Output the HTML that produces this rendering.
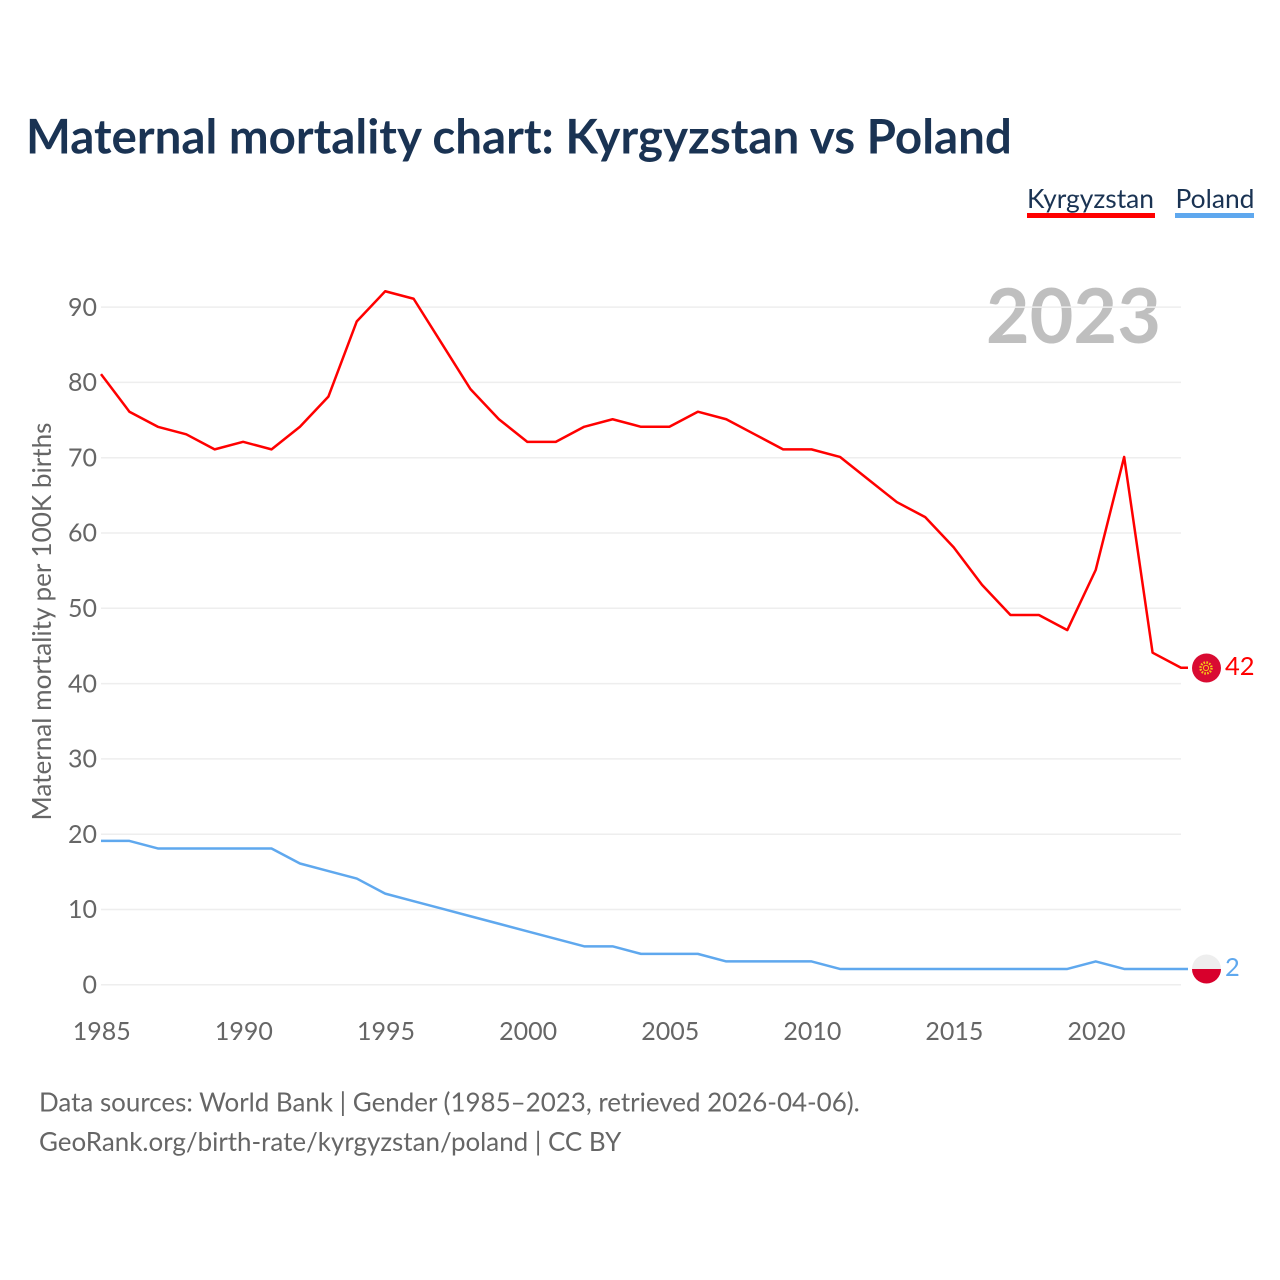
<!DOCTYPE html>
<html lang="en">
<head>
<meta charset="utf-8">
<title>Maternal mortality chart: Kyrgyzstan vs Poland</title>
<style>
html,body{margin:0;padding:0;background:#fff;}
#chart{position:absolute;left:0;top:0;width:1280px;height:1280px;overflow:hidden;}
svg{display:block;}
text{font-family:"Lato","Carlito","Liberation Sans",sans-serif;}
</style>
</head>
<body>
<div id="chart">
<svg id="svg" xmlns="http://www.w3.org/2000/svg" width="1280" height="1280" viewBox="0 0 1280 1280">
  <text x="26" y="153.700" font-size="47.500" font-weight="700" fill="#1a3353">Maternal mortality chart: Kyrgyzstan vs Poland</text>
  <g>
    <text x="1027" y="208" font-size="26.400" fill="#1a3353">Kyrgyzstan</text>
    <rect x="1027" y="213" width="128" height="5" fill="#ff0000"></rect>
    <text x="1175.500" y="208" font-size="26.400" fill="#1a3353">Poland</text>
    <rect x="1175" y="213" width="79" height="5" fill="#5fa8ee"></rect>
  </g>
  <text x="1161" y="343" font-size="75.500" font-weight="700" fill="#000000" fill-opacity="0.25" text-anchor="end">2023</text>
  <g id="grid"></g>
  <g id="yticks"></g>
  <g id="xticks"></g>
  <text transform="translate(51,621.500) rotate(-90)" font-size="26.100" fill="#666666" text-anchor="middle">Maternal mortality per 100K births</text>
  <g id="series"></g>
  <g>
    <circle cx="1206.500" cy="668" r="14.500" fill="#d90b32"></circle>
    <circle cx="1206" cy="668" r="5.500" fill="none" stroke="#f5c518" stroke-width="2.400" stroke-dasharray="1.600 1.300"></circle>
    <circle cx="1206" cy="668" r="2.600" fill="#d90b32" stroke="#f5c518" stroke-width="1"></circle>
  </g>
  <g>
    <path d="M1192 969 A14.500 14.500 0 0 1 1221 969 Z" fill="#eeeeee"></path>
    <path d="M1192 969 A14.500 14.500 0 0 0 1221 969 Z" fill="#d8002c"></path>
  </g>
  <text x="1225" y="675" font-size="25.500" fill="#ff0000">42</text>
  <text x="1225" y="976" font-size="25.500" fill="#5fa8ee">2</text>
  <g>
    <text x="39" y="1111.500" font-size="25.950" fill="#666666">Data sources: World Bank | Gender (1985–2023, retrieved 2026-04-06).</text>
    <text x="39" y="1151" font-size="25.950" fill="#666666">GeoRank.org/birth-rate/kyrgyzstan/poland | CC BY</text>
  </g>
</svg>
</div>
<script>
const years = [1985,1986,1987,1988,1989,1990,1991,1992,1993,1994,1995,1996,1997,1998,1999,2000,2001,2002,2003,2004,2005,2006,2007,2008,2009,2010,2011,2012,2013,2014,2015,2016,2017,2018,2019,2020,2021,2022,2023];
const kyrgyzstan = [81,76,74,73,71,72,71,74,78,88,92,91,85,79,75,72,72,74,75,74,74,76,75,73,71,71,70,67,64,62,58,53,49,49,47,55,70,44,42];
const poland = [19,19,18,18,18,18,18,16,15,14,12,11,10,9,8,7,6,5,5,4,4,4,3,3,3,3,2,2,2,2,2,2,2,2,2,3,2,2,2];
const yTickValues = [0,10,20,30,40,50,60,70,80,90];
const xTickValues = [1985,1990,1995,2000,2005,2010,2015,2020];

const NS = 'http://www.w3.org/2000/svg';
const xScale = function (v) { return 101 + (v - 1985) * (1181 - 101) / (2023 - 1985); };
const yScale = function (v) { return 984 - v * 7.53; };
const grid = document.getElementById('grid');
const yticks = document.getElementById('yticks');
const xticks = document.getElementById('xticks');
const series = document.getElementById('series');

yTickValues.forEach(function (v) {
  const line = document.createElementNS(NS, 'line');
  line.setAttribute('x1', 101);
  line.setAttribute('x2', 1181);
  line.setAttribute('y1', yScale(v) + 0.8);
  line.setAttribute('y2', yScale(v) + 0.8);
  line.setAttribute('stroke', '#eeeeee');
  line.setAttribute('stroke-width', 1.5);
  
  
  grid.appendChild(line);
  const t = document.createElementNS(NS, 'text');
  t.setAttribute('x', 97);
  t.setAttribute('y', yScale(v) + 9.5);
  t.setAttribute('font-size', 25);
  t.setAttribute('fill', '#666666');
  t.setAttribute('text-anchor', 'end');
  t.textContent = v;
  
  
  yticks.appendChild(t);
});

xTickValues.forEach(function (v) {
  const t = document.createElementNS(NS, 'text');
  t.setAttribute('x', xScale(v) + 0.8);
  t.setAttribute('y', 1040);
  t.setAttribute('font-size', 25);
  t.setAttribute('fill', '#666666');
  t.setAttribute('text-anchor', 'middle');
  t.textContent = v;
  
  
  xticks.appendChild(t);
});

function drawSeries(values, color, name) {
  const pts = values.map(function (v, i) {
    return xScale(years[i]).toFixed(2) + ',' + yScale(v).toFixed(2);
  });
  const last = values[values.length - 1];
  pts.push('1188,' + yScale(last).toFixed(2));
  const pl = document.createElementNS(NS, 'polyline');
  pl.setAttribute('points', pts.join(' '));
  pl.setAttribute('fill', 'none');
  pl.setAttribute('stroke', color);
  pl.setAttribute('stroke-width', 2.5);
  pl.setAttribute('stroke-linejoin', 'round');
  
  
  series.appendChild(pl);
}
drawSeries(poland, '#5fa8ee', 'line-poland');
drawSeries(kyrgyzstan, '#ff0000', 'line-kyrgyzstan');
</script>
</body>
</html>
